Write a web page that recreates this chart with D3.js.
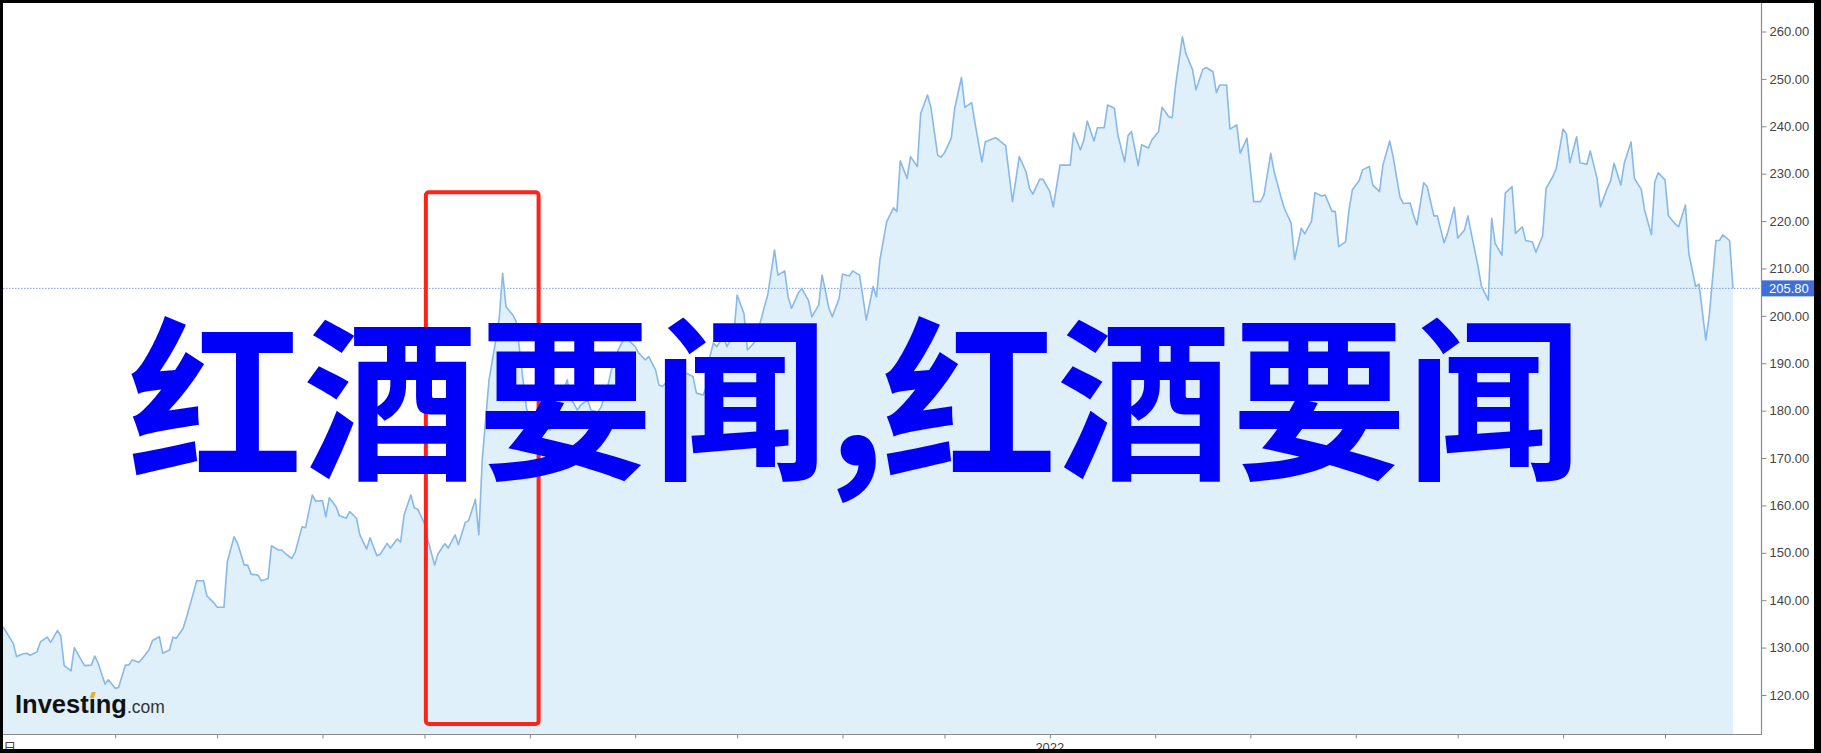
<!DOCTYPE html>
<html><head><meta charset="utf-8">
<script src="https://cdn.jsdelivr.net/npm/d3@7"></script>
<style>html,body{margin:0;padding:0;background:#000;overflow:hidden}</style>
</head><body>
<svg id="c" width="1821" height="753"></svg>
<script>
const dates = [
"2021-02-27","2021-03-02","2021-03-03","2021-03-05","2021-03-06","2021-03-07","2021-03-09","2021-03-10","2021-03-12","2021-03-13",
"2021-03-15","2021-03-16","2021-03-17","2021-03-19","2021-03-20","2021-03-22","2021-03-23","2021-03-25","2021-03-26","2021-03-27",
"2021-03-29","2021-03-30","2021-04-01","2021-04-02","2021-04-04","2021-04-05","2021-04-06","2021-04-08","2021-04-09","2021-04-11",
"2021-04-12","2021-04-14","2021-04-15","2021-04-17","2021-04-18","2021-04-19","2021-04-21","2021-04-22","2021-04-24","2021-04-25",
"2021-04-27","2021-04-28","2021-04-30","2021-05-01","2021-05-03","2021-05-04","2021-05-06","2021-05-07","2021-05-09","2021-05-10",
"2021-05-11","2021-05-13","2021-05-14","2021-05-16","2021-05-17","2021-05-19","2021-05-20","2021-05-21","2021-05-23","2021-05-24",
"2021-05-26","2021-05-27","2021-05-29","2021-05-30","2021-06-01","2021-06-02","2021-06-03","2021-06-05","2021-06-06","2021-06-08",
"2021-06-09","2021-06-11","2021-06-12","2021-06-14","2021-06-15","2021-06-17","2021-06-18","2021-06-20","2021-06-21","2021-06-23",
"2021-06-24","2021-06-25","2021-06-27","2021-06-28","2021-06-29","2021-07-01","2021-07-02","2021-07-04","2021-07-05","2021-07-07",
"2021-07-08","2021-07-10","2021-07-11","2021-07-13","2021-07-14","2021-07-16","2021-07-17","2021-07-18","2021-07-20","2021-07-22",
"2021-07-23","2021-07-24","2021-07-25","2021-07-27","2021-07-28","2021-07-30","2021-07-31","2021-08-01","2021-08-03","2021-08-04",
"2021-08-06","2021-08-07","2021-08-08","2021-08-10","2021-08-12","2021-08-13","2021-08-15","2021-08-16","2021-08-18","2021-08-19",
"2021-08-21","2021-08-22","2021-08-24","2021-08-25","2021-08-27","2021-08-29","2021-08-30","2021-09-01","2021-09-02","2021-09-04",
"2021-09-05","2021-09-07","2021-09-08","2021-09-09","2021-09-11","2021-09-12","2021-09-14","2021-09-15","2021-09-16","2021-09-18",
"2021-09-19","2021-09-21","2021-09-22","2021-09-23","2021-09-24","2021-09-25","2021-09-27","2021-09-28","2021-09-29","2021-09-30",
"2021-10-01","2021-10-03","2021-10-04","2021-10-06","2021-10-08","2021-10-09","2021-10-10","2021-10-12","2021-10-13","2021-10-15",
"2021-10-16","2021-10-17","2021-10-19","2021-10-20","2021-10-22","2021-10-23","2021-10-25","2021-10-26","2021-10-28","2021-10-29",
"2021-10-31","2021-11-01","2021-11-03","2021-11-04","2021-11-06","2021-11-07","2021-11-08","2021-11-10","2021-11-11","2021-11-12",
"2021-11-14","2021-11-16","2021-11-17","2021-11-18","2021-11-20","2021-11-21","2021-11-23","2021-11-24","2021-11-26","2021-11-27",
"2021-11-29","2021-11-30","2021-12-01","2021-12-03","2021-12-04","2021-12-06","2021-12-07","2021-12-09","2021-12-10","2021-12-12",
"2021-12-13","2021-12-15","2021-12-16","2021-12-17","2021-12-19","2021-12-21","2021-12-22","2021-12-23","2021-12-25","2021-12-26",
"2021-12-27","2021-12-29","2021-12-30","2022-01-01","2022-01-02","2022-01-04","2022-01-05","2022-01-07","2022-01-08","2022-01-10",
"2022-01-11","2022-01-12","2022-01-14","2022-01-15","2022-01-17","2022-01-18","2022-01-20","2022-01-21","2022-01-23","2022-01-24",
"2022-01-25","2022-01-27","2022-01-28","2022-01-30","2022-01-31","2022-02-02","2022-02-03","2022-02-05","2022-02-06","2022-02-07",
"2022-02-09","2022-02-10","2022-02-12","2022-02-13","2022-02-15","2022-02-16","2022-02-18","2022-02-19","2022-02-20","2022-02-22",
"2022-02-23","2022-02-25","2022-02-26","2022-02-28","2022-03-01","2022-03-02","2022-03-04","2022-03-05","2022-03-07","2022-03-08",
"2022-03-10","2022-03-11","2022-03-13","2022-03-14","2022-03-16","2022-03-17","2022-03-19","2022-03-20","2022-03-22","2022-03-23",
"2022-03-25","2022-03-26","2022-03-27","2022-03-29","2022-03-30","2022-03-31","2022-04-02","2022-04-03","2022-04-05","2022-04-06",
"2022-04-08","2022-04-09","2022-04-11","2022-04-12","2022-04-14","2022-04-15","2022-04-17","2022-04-18","2022-04-19","2022-04-21",
"2022-04-22","2022-04-24","2022-04-25","2022-04-27","2022-04-28","2022-04-30","2022-05-01","2022-05-03","2022-05-04","2022-05-05",
"2022-05-07","2022-05-08","2022-05-10","2022-05-11","2022-05-12","2022-05-14","2022-05-15","2022-05-17","2022-05-18","2022-05-20",
"2022-05-21","2022-05-23","2022-05-24","2022-05-26","2022-05-27","2022-05-29","2022-05-30","2022-06-01","2022-06-02","2022-06-03",
"2022-06-05","2022-06-06","2022-06-08","2022-06-09","2022-06-11","2022-06-12","2022-06-14","2022-06-15","2022-06-16","2022-06-18",
"2022-06-19","2022-06-21","2022-06-22","2022-06-24","2022-06-25","2022-06-27","2022-06-28","2022-06-29","2022-07-01","2022-07-02",
"2022-07-04","2022-07-05","2022-07-07","2022-07-08","2022-07-10","2022-07-11","2022-07-13","2022-07-14","2022-07-16","2022-07-17",
"2022-07-18","2022-07-20","2022-07-21"];

const prices = [
134.4,130.9,128.1,128.7,128.8,128.4,129.1,131.2,132.2,131.1,
133.6,132.5,126.2,125.1,130.0,127.4,126.2,126.3,128.2,126.7,
122.3,123.2,121.4,121.6,126.3,126.3,127.4,126.9,127.7,129.6,
131.5,132.3,128.8,129.5,132.2,132.0,134.1,136.4,141.5,144.1,
144.1,140.9,139.5,138.5,138.5,148.1,153.4,152.0,147.4,147.4,
145.5,145.3,144.1,144.6,151.5,150.6,150.6,149.9,148.8,150.2,
155.5,155.3,162.2,160.9,161.0,157.6,161.6,159.7,157.8,157.3,
158.7,157.3,153.8,150.8,153.2,149.4,149.7,152.0,151.0,152.9,
152.3,158.0,162.2,159.5,159.2,156.2,152.7,147.4,149.8,151.9,
151.0,153.8,151.7,156.4,156.8,161.3,153.8,169.6,186.5,194.9,
199.5,209.0,201.9,200.2,198.8,186.5,180.6,178.0,176.3,176.3,
176.5,175.9,179.1,182.2,186.5,182.7,180.1,181.2,182.2,180.1,
179.7,180.8,185.4,188.6,192.8,195.6,194.9,193.5,192.2,190.7,
191.4,188.6,185.4,185.1,186.5,185.4,186.9,187.5,187.9,187.2,
183.7,183.3,185.1,191.4,194.3,193.5,195.6,193.5,194.9,195.6,
204.4,200.5,192.8,194.3,199.1,201.9,204.4,213.9,208.6,209.5,
204.0,201.6,204.8,205.8,203.2,199.8,202.3,208.6,201.6,199.8,
203.7,208.8,208.4,209.5,208.6,204.0,199.1,206.2,204.0,211.8,
219.9,222.8,222.0,232.7,229.0,233.6,231.5,242.7,246.6,244.0,
233.9,233.5,234.4,237.5,243.8,250.3,244.0,245.0,240.6,232.5,
236.7,237.3,237.6,237.1,235.9,224.1,228.7,233.6,230.4,226.9,
225.7,228.8,228.8,226.2,223.0,231.8,231.8,231.8,238.6,235.0,
237.1,241.1,236.9,239.7,239.7,244.5,243.8,238.2,232.5,238.0,
238.9,231.7,236.1,235.4,237.1,238.9,244.0,242.0,241.8,248.7,
258.9,255.4,251.9,247.7,252.0,252.4,251.5,247.1,248.7,248.7,
239.4,240.3,234.3,237.5,230.8,224.1,224.1,225.5,234.3,230.4,
225.1,222.7,219.5,211.9,218.5,217.3,220.0,226.0,225.3,225.5,
222.1,222.0,214.6,215.6,222.2,226.6,228.5,230.8,231.5,227.6,
226.2,231.8,236.9,233.6,225.1,223.7,223.8,221.3,219.2,228.1,
227.3,221.1,221.1,215.4,217.4,222.9,216.4,218.1,221.1,217.4,
210.4,206.2,203.3,220.6,215.3,212.8,225.9,227.3,217.4,218.8,
215.9,215.6,213.4,216.9,226.9,229.4,231.1,239.4,238.4,232.3,
237.8,232.3,232.0,234.8,229.0,223.0,226.9,228.5,232.2,227.6,
232.2,236.7,229.0,226.7,222.3,217.1,228.3,230.2,228.7,221.1,
219.4,218.8,223.4,213.2,206.2,206.7,194.9,200.0,215.9,215.9,
217.1,215.9,205.8];

const yTicks = [120,130,140,150,160,170,180,190,200,210,220,230,240,250,260];
const lastPrice = 205.80;
const xLabelDates = ["2021-03-01","2022-01-01"];
const xLabelTexts = ["日","2022"];
const highlightDates = ["2021-07-01T10:00","2021-08-03T14:00"];
const highlightValues = [113.9, 226.1];
const headlineParts = ["红酒要闻,", "红酒要闻"];
const brandMain = "Investıng";
const brandSuffix = ".com";

const W = 1821, H = 753;
const frame = {l: 3, t: 3, r: 1814, b: 749};
const plotRight = 1761, plotBottom = 734;

const parse = d3.timeParse("%Y-%m-%d");
const parseT = d3.timeParse("%Y-%m-%dT%H:%M");
const data = dates.map((d, i) => ({date: parse(d), v: prices[i]}));

const x = d3.scaleTime().domain([parse("2021-02-27"), parse("2022-07-21")]).range([3, 1733]);
const y = d3.scaleLinear().domain([120, 260]).range([695, 31.5]);

const svg = d3.select("#c");
svg.append("rect").attr("width", W).attr("height", H).attr("fill", "#000");
svg.append("rect").attr("x", frame.l).attr("y", frame.t).attr("width", frame.r - frame.l).attr("height", frame.b - frame.t).attr("fill", "#fff");

// area
svg.append("path").datum(data)
  .attr("d", d3.area().x(d => x(d.date)).y0(plotBottom).y1(d => y(d.v)))
  .attr("fill", "#e0f0fa");

// last price dotted line
svg.append("line").attr("x1", frame.l).attr("x2", plotRight)
  .attr("y1", y(lastPrice)).attr("y2", y(lastPrice))
  .attr("stroke", "#7f98e6").attr("stroke-width", 1).attr("stroke-dasharray", "1.5,1.5");

// line
svg.append("path").datum(data)
  .attr("d", d3.line().x(d => x(d.date)).y(d => y(d.v)))
  .attr("fill", "none").attr("stroke", "#86b9ea").attr("stroke-width", 1.6).attr("stroke-linejoin", "round");

// axes
const axisColor = "#8a8a8a";
svg.append("line").attr("x1", frame.l).attr("x2", plotRight).attr("y1", plotBottom + 0.5).attr("y2", plotBottom + 0.5)
  .attr("stroke", axisColor).attr("stroke-width", 1.2);
svg.append("line").attr("x1", plotRight + 0.5).attr("x2", plotRight + 0.5).attr("y1", frame.t).attr("y2", plotBottom + 1)
  .attr("stroke", axisColor).attr("stroke-width", 1.2);

const yAxis = svg.append("g").attr("transform", `translate(${plotRight + 0.5},0)`)
  .call(d3.axisRight(y).tickValues(yTicks).tickFormat(d3.format(".2f")).tickSize(5).tickPadding(3));
yAxis.select(".domain").remove();
yAxis.selectAll("line").attr("stroke", axisColor);
yAxis.selectAll("text").attr("fill", "#444").style("font-family", "'Liberation Sans', Arial, sans-serif").style("font-size", "13px");

const monthTicks = x.ticks(d3.timeMonth.every(1)).filter(d => x(d) > 20);
const xAxis = svg.append("g").attr("transform", `translate(0,${plotBottom + 0.5})`)
  .call(d3.axisBottom(x).tickValues(monthTicks).tickFormat("").tickSize(4));
xAxis.select(".domain").remove();
xAxis.selectAll("line").attr("stroke", axisColor);

svg.selectAll(".xlab").data(xLabelDates).enter().append("text")
  .attr("x", d => x(parse(d))).attr("y", 752)
  .attr("text-anchor", "middle")
  .style("font-family", "'Liberation Sans', 'Noto Sans CJK SC', Arial, sans-serif").style("font-size", "13px")
  .attr("fill", "#444").text((d, i) => xLabelTexts[i]);

// last price label
const ly = y(lastPrice);
svg.append("rect").attr("x", plotRight + 1).attr("y", ly - 8).attr("width", frame.r - plotRight - 1).attr("height", 16).attr("fill", "#3f6fd6");
svg.append("text").attr("x", plotRight + 8).attr("y", ly + 4.5).attr("fill", "#fff")
  .style("font-family", "'Liberation Sans', Arial, sans-serif").style("font-size", "13px").text(d3.format(".2f")(lastPrice));

// red highlight box
const hx0 = x(parseT(highlightDates[0])), hx1 = x(parseT(highlightDates[1]));
const hy0 = y(highlightValues[1]), hy1 = y(highlightValues[0]);
svg.append("rect").attr("x", hx0).attr("y", hy0).attr("width", hx1 - hx0).attr("height", hy1 - hy0)
  .attr("rx", 3).attr("fill", "none").attr("stroke", "#ff2218").attr("stroke-width", 4);

// logo
const logo = svg.append("text").attr("x", 15).attr("y", 713)
  .style("font-family", "'Liberation Sans', Arial, sans-serif");
const tMain = logo.append("tspan").style("font-size", "25.5px").style("font-weight", "bold").attr("fill", "#111").text(brandMain);
logo.append("tspan").style("font-size", "17.5px").attr("fill", "#333").text(brandSuffix);
const mainNode = tMain.node();
const iStart = mainNode.getStartPositionOfChar(6).x, iEnd = mainNode.getEndPositionOfChar(6).x;
const ic = (iStart + iEnd) / 2;
svg.append("path").attr("d", `M${ic - 2.5},698 L${ic - 0.5},692 L${ic + 3.5},692 L${ic + 1.5},698 Z`).attr("fill", "#f5a623");

// headline
const head = svg.append("text").attr("x", 128).attr("y", 466)
  .style("font-family", "'Noto Sans CJK SC', sans-serif").style("font-weight", "bold").style("font-size", "175px")
  .attr("fill", "#0000fa");
head.append("tspan").text(headlineParts[0]);
head.append("tspan").attr("dx", -3).text(headlineParts[1]);

// black frame overlay
svg.append("rect").attr("x", 0).attr("y", 0).attr("width", W).attr("height", frame.t).attr("fill", "#000");
svg.append("rect").attr("x", 0).attr("y", 0).attr("width", frame.l).attr("height", H).attr("fill", "#000");
svg.append("rect").attr("x", frame.r).attr("y", 0).attr("width", W - frame.r).attr("height", H).attr("fill", "#000");
svg.append("rect").attr("x", 0).attr("y", frame.b).attr("width", W).attr("height", H - frame.b).attr("fill", "#000");
</script>
</body></html>
